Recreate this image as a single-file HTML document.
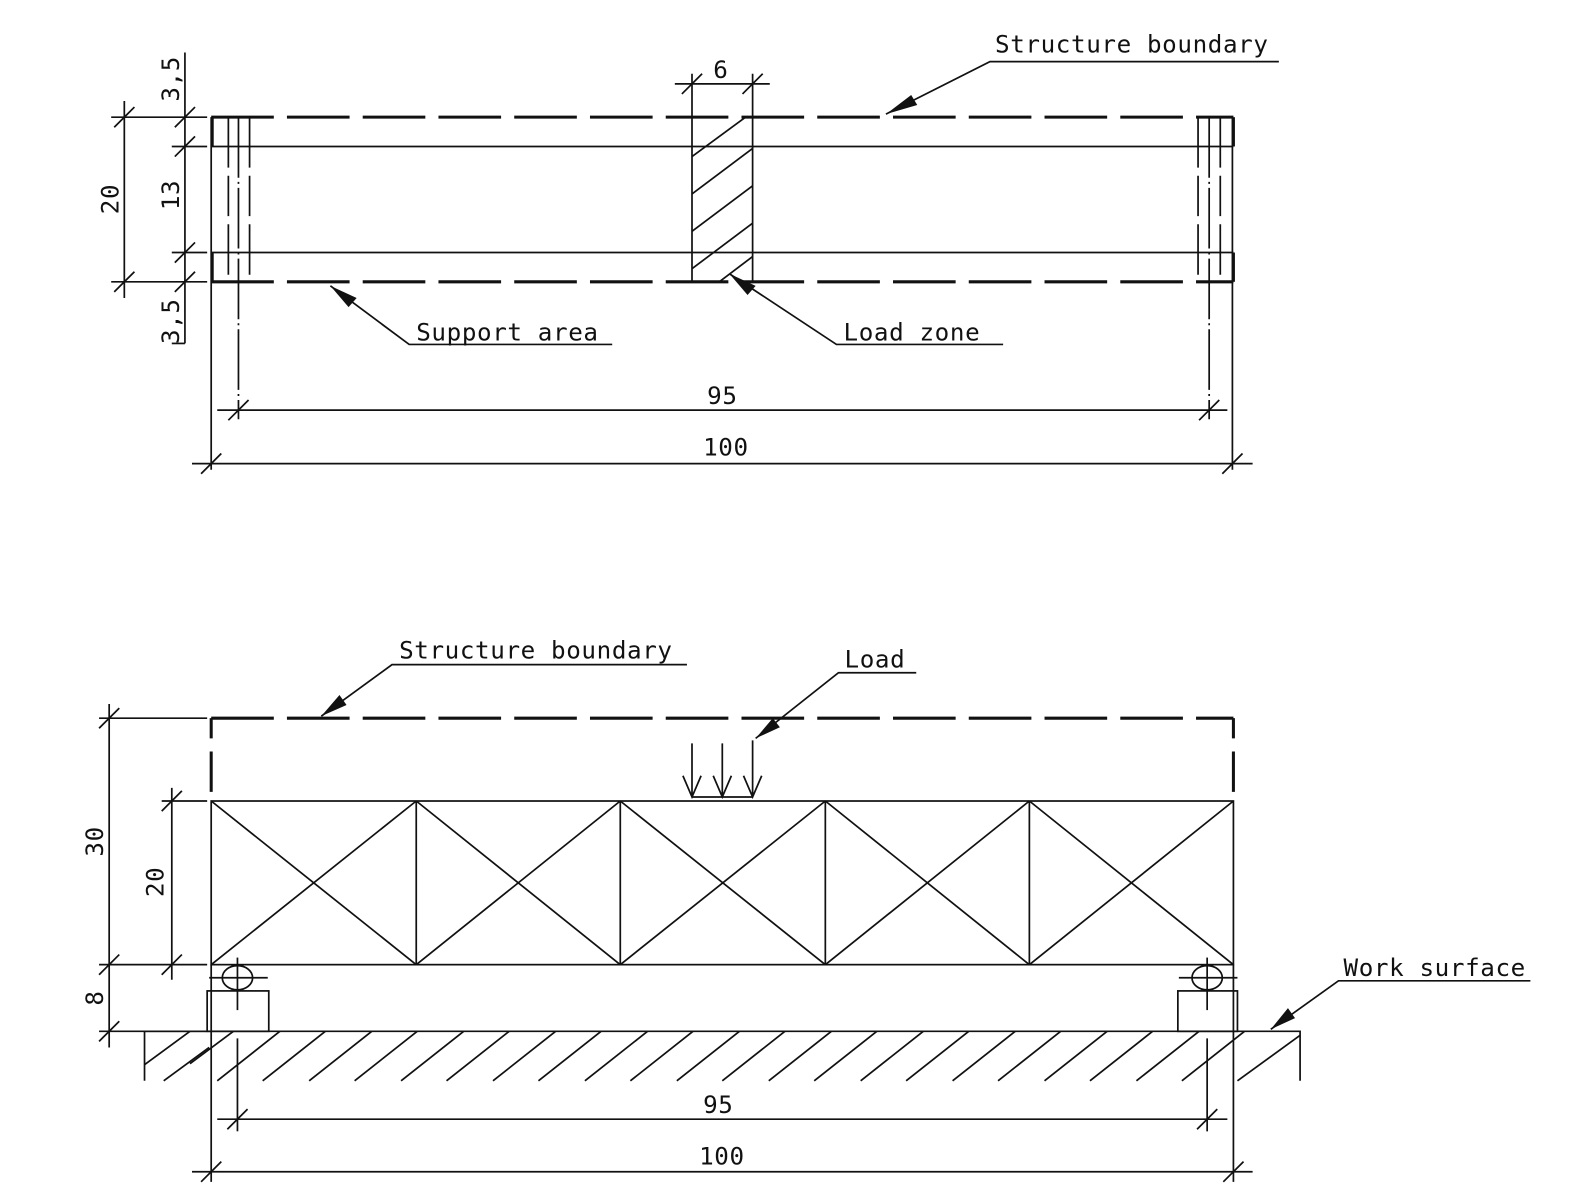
<!DOCTYPE html>
<html><head><meta charset="utf-8"><style>html,body{margin:0;padding:0;background:#fff}svg{display:block}text{font-family:"DejaVu Sans Mono","Liberation Mono",monospace;font-size:24px;fill:#111;letter-spacing:0.6px}</style></head>
<body>
<svg width="1584" height="1200" viewBox="0 0 1568 1188" xmlns="http://www.w3.org/2000/svg">
<defs>
<g id="tk"><line x1="-10" y1="10" x2="10" y2="-10"/></g>
</defs>
<g stroke="#111" stroke-width="1.7" fill="none">
<!-- TOP VIEW -->
<line x1="209" y1="145" x2="1221" y2="145"/>
<line x1="209" y1="250" x2="1221" y2="250"/>
<g stroke-width="3" stroke-dasharray="62 13">
<line x1="209" y1="116" x2="1221" y2="116"/>
<line x1="209" y1="279" x2="1221" y2="279"/>
</g>
<g stroke-width="3">
<line x1="210" y1="116" x2="210" y2="145"/><line x1="210" y1="250" x2="210" y2="279"/>
<line x1="1221" y1="116" x2="1221" y2="145"/><line x1="1221" y1="250" x2="1221" y2="279"/>
</g>
<line x1="209" y1="116" x2="209" y2="465"/>
<line x1="1220" y1="116" x2="1220" y2="465"/>
<line x1="226" y1="116" x2="226" y2="279" stroke-dasharray="50 8 40 8 50 8"/>
<line x1="247" y1="116" x2="247" y2="279" stroke-dasharray="50 8 40 8 50 8"/>
<line x1="236" y1="116" x2="236" y2="415" stroke-dasharray="60 4 2 4"/>
<line x1="1186" y1="116" x2="1186" y2="279" stroke-dasharray="50 8 40 8 50 8"/>
<line x1="1208" y1="116" x2="1208" y2="279" stroke-dasharray="50 8 40 8 50 8"/>
<line x1="1197" y1="116" x2="1197" y2="415" stroke-dasharray="60 4 2 4"/>
<!-- load zone -->
<line x1="685" y1="116" x2="685" y2="279"/>
<line x1="745" y1="73" x2="745" y2="279"/>
<line x1="685" y1="73" x2="685" y2="116"/>
<line x1="685" y1="155" x2="738" y2="116"/>
<line x1="685" y1="192" x2="745" y2="147"/>
<line x1="685" y1="229" x2="745" y2="184"/>
<line x1="685" y1="266" x2="745" y2="221"/>
<line x1="712" y1="279" x2="745" y2="254"/>
<!-- dim 6 -->
<line x1="668" y1="83" x2="762" y2="83"/>
<use href="#tk" x="685" y="83"/><use href="#tk" x="745" y="83"/>
<!-- left dims -->
<line x1="123" y1="100" x2="123" y2="295"/>
<line x1="110" y1="116" x2="205" y2="116"/>
<line x1="110" y1="279" x2="205" y2="279"/>
<use href="#tk" x="123" y="116"/><use href="#tk" x="123" y="279"/>
<line x1="183" y1="52" x2="183" y2="340"/>
<line x1="170" y1="145" x2="205" y2="145"/>
<line x1="170" y1="250" x2="205" y2="250"/>
<line x1="170" y1="340" x2="183" y2="340"/>
<use href="#tk" x="183" y="116"/><use href="#tk" x="183" y="145"/><use href="#tk" x="183" y="250"/><use href="#tk" x="183" y="279"/>
<!-- 95 / 100 -->
<line x1="215" y1="406" x2="1215" y2="406"/>
<use href="#tk" x="236" y="406"/><use href="#tk" x="1197" y="406"/>
<line x1="190" y1="459" x2="1240" y2="459"/>
<use href="#tk" x="209" y="459"/><use href="#tk" x="1220" y="459"/>
<!-- leaders top -->
<polyline points="1266,61 980,61 877,113"/>
<polyline points="606,341 405,341 327,283"/>
<polyline points="993,341 828,341 722,271"/>

<!-- BOTTOM VIEW -->
<g stroke-width="3" stroke-dasharray="62 13">
<line x1="209" y1="711" x2="1221" y2="711"/>
</g>
<g stroke-width="3" stroke-dasharray="20 13 40 13">
<line x1="209" y1="711" x2="209" y2="792"/>
<line x1="1221" y1="711" x2="1221" y2="792"/>
</g>
<rect x="209" y="793" width="1012" height="162"/>
<line x1="412" y1="793" x2="412" y2="955"/><line x1="614" y1="793" x2="614" y2="955"/>
<line x1="817" y1="793" x2="817" y2="955"/><line x1="1019" y1="793" x2="1019" y2="955"/>
<path d="M209 793L412 955M412 793L209 955M412 793L614 955M614 793L412 955M614 793L817 955M817 793L614 955M817 793L1019 955M1019 793L817 955M1019 793L1221 955M1221 793L1019 955"/>
<!-- load arrows -->
<line x1="685" y1="789" x2="745" y2="789"/>
<path d="M685 736V789M676 768L685 789L694 768M715 736V789M706 768L715 789L724 768M745 733V789M736 768L745 789L754 768"/>
<!-- supports -->
<ellipse cx="235" cy="968" rx="15" ry="12"/>
<line x1="207" y1="968" x2="265" y2="968"/><line x1="235" y1="948" x2="235" y2="1000"/>
<rect x="205" y="981" width="61" height="40"/>
<ellipse cx="1195" cy="968" rx="15" ry="12"/>
<line x1="1167" y1="968" x2="1225" y2="968"/><line x1="1195" y1="948" x2="1195" y2="1000"/>
<rect x="1166" y="981" width="59" height="40"/>
<!-- ground -->
<path d="M143 1070V1021H1287V1070"/>
<path d="M143 1054L188 1021M162 1070L207 1037M1225 1070L1287 1025"/>
<path d="M277 1021L215 1070M322 1021L260 1070M368 1021L306 1070M413 1021L351 1070M459 1021L397 1070M504 1021L442 1070M550 1021L488 1070M595 1021L533 1070M641 1021L579 1070M686 1021L624 1070M732 1021L670 1070M777 1021L715 1070M823 1021L761 1070M868 1021L806 1070M914 1021L852 1070M959 1021L897 1070M1005 1021L943 1070M1050 1021L988 1070M1096 1021L1034 1070M1141 1021L1079 1070M1187 1021L1125 1070M1232 1021L1170 1070"/>
<path d="M231 1021L188 1053"/>
<line x1="209" y1="955" x2="209" y2="1170"/>
<line x1="1221" y1="955" x2="1221" y2="1170"/>
<line x1="235" y1="1028" x2="235" y2="1120"/>
<line x1="1195" y1="1028" x2="1195" y2="1120"/>
<!-- dims bottom -->
<line x1="215" y1="1108" x2="1215" y2="1108"/>
<use href="#tk" x="235" y="1108"/><use href="#tk" x="1195" y="1108"/>
<line x1="190" y1="1160" x2="1240" y2="1160"/>
<use href="#tk" x="209" y="1160"/><use href="#tk" x="1221" y="1160"/>
<line x1="108" y1="697" x2="108" y2="1037"/>
<line x1="98" y1="711" x2="205" y2="711"/>
<line x1="98" y1="955" x2="205" y2="955"/>
<line x1="98" y1="1021" x2="205" y2="1021"/>
<use href="#tk" x="108" y="711"/><use href="#tk" x="108" y="955"/><use href="#tk" x="108" y="1021"/>
<line x1="170" y1="780" x2="170" y2="970"/>
<line x1="160" y1="793" x2="205" y2="793"/>
<use href="#tk" x="170" y="793"/><use href="#tk" x="170" y="955"/>
<!-- leaders bottom -->
<polyline points="680,658 388,658 318,709"/>
<polyline points="907,666 830,666 748,731"/>
<polyline points="1515,971 1325,971 1258,1019"/>
</g>
<g fill="#111">
<polygon points="877,113 902,94 908,104"/>
<polygon points="327,283 345,304 353,295"/>
<polygon points="722,271 740,292 748,283"/>
<polygon points="318,709 336,688 343,698"/>
<polygon points="748,731 765,711 772,720"/>
<polygon points="1258,1019 1275,998 1282,1008"/>
</g>
<text x="985" y="52">Structure boundary</text>
<text x="412" y="337">Support area</text>
<text x="835" y="337">Load zone</text>
<text x="706" y="77">6</text>
<text x="700" y="400">95</text>
<text x="696" y="451">100</text>
<text x="395" y="652">Structure boundary</text>
<text x="836" y="661">Load</text>
<text x="1330" y="966">Work surface</text>
<text x="696" y="1102">95</text>
<text x="692" y="1153">100</text>
<g>
<text transform="translate(117,197) rotate(-90)" text-anchor="middle">20</text>
<text transform="translate(177,78) rotate(-90)" text-anchor="middle">3,5</text>
<text transform="translate(177,193) rotate(-90)" text-anchor="middle">13</text>
<text transform="translate(177,318) rotate(-90)" text-anchor="middle">3,5</text>
<text transform="translate(102,833) rotate(-90)" text-anchor="middle">30</text>
<text transform="translate(162,873) rotate(-90)" text-anchor="middle">20</text>
<text transform="translate(102,988) rotate(-90)" text-anchor="middle">8</text>
</g>
</svg>
</body></html>
